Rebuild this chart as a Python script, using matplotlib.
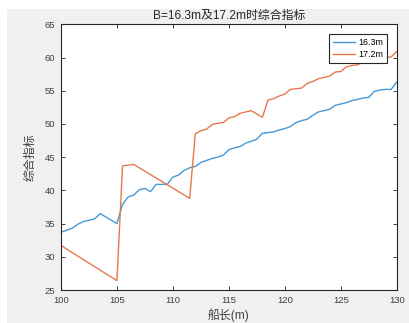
import numpy as np
import matplotlib
matplotlib.use('Agg')
import matplotlib.pyplot as plt
from matplotlib.patches import Rectangle

#===============================================================================
# Data
#===============================================================================

# ship length (m), B = 16.3 m
length_a = [100.0, 100.5, 101.0, 101.5, 102.0, 102.5, 103.0, 103.5, 104.0,
            104.5, 105.0, 105.5, 106.0, 106.5, 107.0, 107.5, 108.0, 108.5,
            109.0, 109.5, 110.0, 110.5, 111.0, 111.5, 112.0, 112.5, 113.0,
            113.5, 114.0, 114.5, 115.0, 115.5, 116.0, 116.5, 117.0, 117.5,
            118.0, 118.5, 119.0, 119.5, 120.0, 120.5, 121.0, 121.5, 122.0,
            122.5, 123.0, 123.5, 124.0, 124.5, 125.0, 125.5, 126.0, 126.5,
            127.0, 127.5, 128.0, 128.5, 129.0, 129.5, 130.0]
index_a = [33.7, 34.0, 34.3, 34.9, 35.3, 35.5, 35.7, 36.5, 36.0,
           35.5, 35.0, 37.9, 39.0, 39.3, 40.1, 40.3, 39.8, 40.9,
           40.9, 40.9, 42.0, 42.3, 43.0, 43.4, 43.6, 44.2, 44.5,
           44.8, 45.0, 45.3, 46.1, 46.4, 46.6, 47.1, 47.4, 47.7,
           48.6, 48.7, 48.8, 49.1, 49.3, 49.6, 50.2, 50.5, 50.7,
           51.3, 51.8, 52.0, 52.2, 52.8, 53.0, 53.2, 53.5, 53.7,
           53.9, 54.0, 54.9, 55.1, 55.2, 55.2, 56.3]

# ship length (m), B = 17.2 m
length_b = [100.0, 105.0, 105.5, 106.5, 111.5, 112.0, 112.5, 113.0, 113.5,
            114.0, 114.5, 115.0, 115.5, 116.0, 116.5, 117.0, 118.0, 118.5,
            119.0, 119.5, 120.0, 120.5, 121.0, 121.5, 122.0, 122.5, 123.0,
            123.5, 124.0, 124.5, 125.0, 125.5, 126.0, 126.5, 127.0, 127.5,
            128.0, 128.5, 129.0, 129.5, 130.0]
index_b = [31.7, 26.4, 43.7, 43.9, 38.8, 48.5, 49.0, 49.2, 49.9,
           50.1, 50.2, 50.9, 51.1, 51.6, 51.8, 52.0, 51.0, 53.6,
           53.8, 54.2, 54.5, 55.2, 55.3, 55.4, 56.1, 56.4, 56.8,
           57.0, 57.2, 57.8, 57.9, 58.6, 58.8, 58.9, 59.3, 59.4,
           59.8, 60.0, 60.0, 60.1, 60.9]

labels = ['16.3m', '17.2m']
xticks = [100, 105, 110, 115, 120, 125, 130]
yticks = [25, 30, 35, 40, 45, 50, 55, 60, 65]

#===============================================================================
# Plot
#===============================================================================

fonts = ['Liberation Sans', 'Noto Sans CJK SC', 'DejaVu Sans']
plt.rcParams['font.family'] = fonts
ink = '#262626'

fig = plt.figure(figsize=(4.10, 3.23), dpi=100, facecolor='white')
fig.patches.append(Rectangle((7 / 410, 0), 403 / 410, 314 / 323,
                             transform=fig.transFigure, facecolor='#f0f0f0',
                             edgecolor='none', zorder=-10))

ax = fig.add_axes([61 / 410, 1 - 290 / 323, 335.7 / 410, 265.7 / 323])

ax.plot(length_a, index_a, color='#4499d8', linewidth=1.0, label=labels[0])
ax.plot(length_b, index_b, color='#e5794e', linewidth=1.0, label=labels[1])

ax.set_xlim(100, 130)
ax.set_ylim(25, 65)
ax.set_xticks(xticks)
ax.set_yticks(yticks)
ax.tick_params(direction='in', length=3, width=0.7, colors='#404040',
               labelsize=6.8, top=True, right=True, pad=4)
for s in ax.spines.values():
    s.set_color(ink)
    s.set_linewidth(0.8)

ax.set_title('B=16.3m及17.2m时综合指标', fontsize=8.6, color=ink, pad=4)
ax.set_xlabel('船长(m)', fontsize=8.6, color='#404040', labelpad=3)
ax.set_ylabel('综合指标', fontsize=8.6, color='#404040', labelpad=6)

leg = ax.legend(loc='upper right', bbox_to_anchor=(0.971, 0.9635),
                fontsize=6.4, frameon=True, fancybox=False, framealpha=1,
                edgecolor=ink, handlelength=2.5, borderpad=0.45,
                labelspacing=0.3, handletextpad=0.3, borderaxespad=0)
leg.get_frame().set_linewidth(0.8)

fig.savefig('out.png', dpi=100)
